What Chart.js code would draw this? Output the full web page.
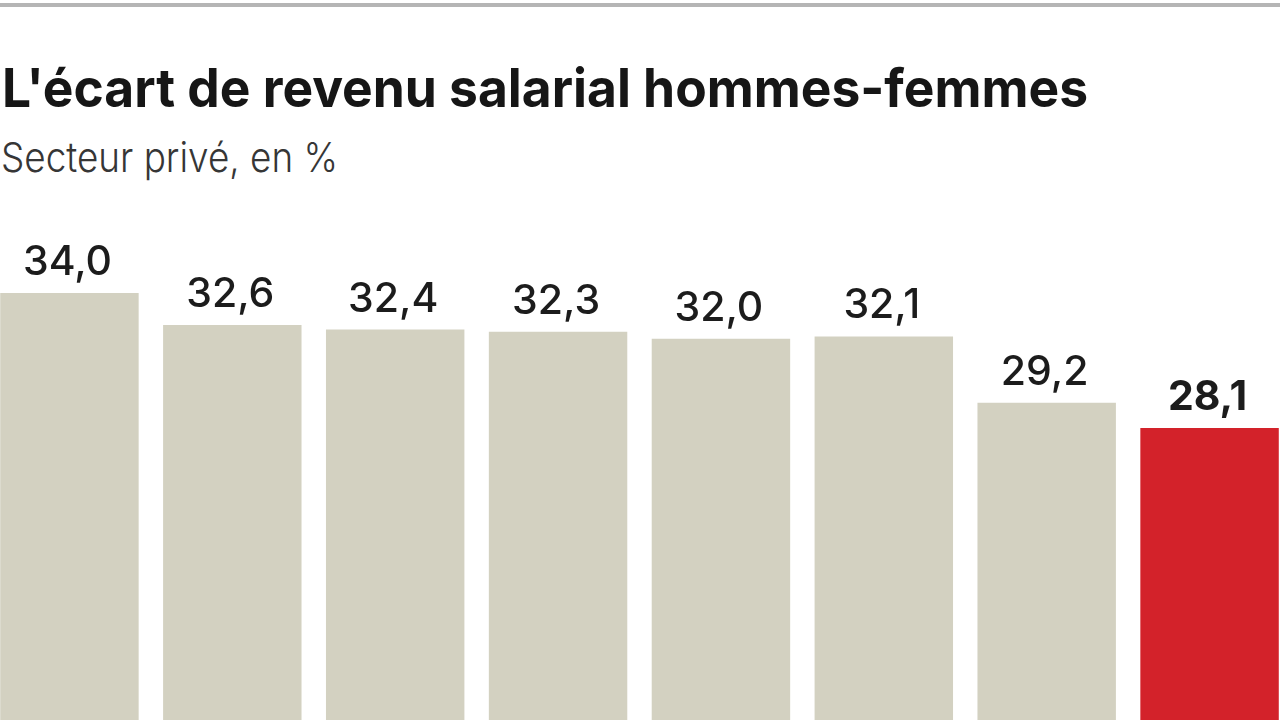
<!DOCTYPE html>
<html lang="fr">
<head>
<meta charset="utf-8">
<title>L'écart de revenu salarial hommes-femmes</title>
<script src="https://cdn.jsdelivr.net/npm/chart.js@4/dist/chart.umd.min.js"></script>
<style>
    html, body {
        margin: 0;
        padding: 0;
        width: 1280px;
        height: 720px;
        overflow: hidden;
        background: #fff;
    }
    body {
        position: relative;
        font-family: Inter, "Noto Sans", sans-serif;
    }
    .rule {
        position: absolute;
        left: 0;
        top: 3px;
        width: 1280px;
        height: 4px;
        background: #b5b5b5;
    }
    .title, .subtitle {
        position: absolute;
        white-space: nowrap;
        line-height: 1;
        transform-origin: 0 0;
    }
    .title {
        left: 2px;
        top: 61px;
        font-size: 54px;
        font-weight: 700;
        color: #161616;
    }
    .subtitle {
        left: 1px;
        top: 137px;
        font-size: 41px;
        font-weight: 300;
        color: #363636;
    }
    /* bars start from zero below the bottom edge, like the cropped original */
    .chart-box {
        position: absolute;
        left: -12px;
        top: 200px;
        width: 1303px;
        height: 871px;
    }
</style>
</head>
<body>
<div class="rule"></div>
<span class="title" id="title">L'écart de revenu salarial hommes-femmes</span>
<span class="subtitle" id="subtitle">Secteur privé, en %</span>
<div class="chart-box"><canvas id="gap-chart"></canvas></div>

<script>
// ── Data ───────────────────────────────────────────────────────────────────

// categories are cut off in the picture; only their order is known
const categories = ['1', '2', '3', '4', '5', '6', '7', '8'];
const gapValues  = [34.0, 32.6, 32.4, 32.3, 32.0, 32.1, 29.2, 28.1];
const highlightIndex = categories.length - 1;   // latest value, in red

const BAR_GREY = '#d3d1c1';
const BAR_RED  = '#d3222a';

// ── Header text widths ─────────────────────────────────────────────────────

function fitWidth(el, target) {
    const w = el.getBoundingClientRect().width;
    el.style.transform = `scaleX(${target / w})`;
}

function formatFr(v) {
    return v.toFixed(1).replace('.', ',');
}

// ── Value labels above bars ────────────────────────────────────────────────

const valueLabels = {
    id: 'valueLabels',
    afterDatasetsDraw(chart) {
        const { ctx } = chart;
        const meta = chart.getDatasetMeta(0);
        ctx.save();
        ctx.textAlign = 'center';
        ctx.textBaseline = 'alphabetic';
        ctx.fillStyle = '#1c1c1c';
        meta.data.forEach((bar, i) => {
            const weight = i === highlightIndex ? 700 : 500;
            ctx.font = `${weight} 41px Inter, "Noto Sans", sans-serif`;
            ctx.fillText(formatFr(gapValues[i]), bar.x - 2, bar.y - 18);
        });
        ctx.restore();
    },
};

// ── Chart ──────────────────────────────────────────────────────────────────

function buildChart() {
    fitWidth(document.getElementById('title'), 1086);
    fitWidth(document.getElementById('subtitle'), 337);

    new Chart(document.getElementById('gap-chart'), {
        type: 'bar',
        data: {
            labels: categories,
            datasets: [{
                data: gapValues,
                backgroundColor: gapValues.map((_, i) => i === highlightIndex ? BAR_RED : BAR_GREY),
                borderWidth: 0,
                barPercentage: 0.85,
                categoryPercentage: 1,
            }],
        },
        options: {
            responsive: true,
            maintainAspectRatio: false,
            animation: false,
            layout: { padding: 0 },
            plugins: {
                legend: { display: false },
                tooltip: { enabled: false },
            },
            scales: {
                x: { display: false },
                y: { display: false, min: 0, max: 38.06 },
            },
        },
        plugins: [valueLabels],
    });
}

document.fonts.ready.then(buildChart);
</script>
</body>
</html>
